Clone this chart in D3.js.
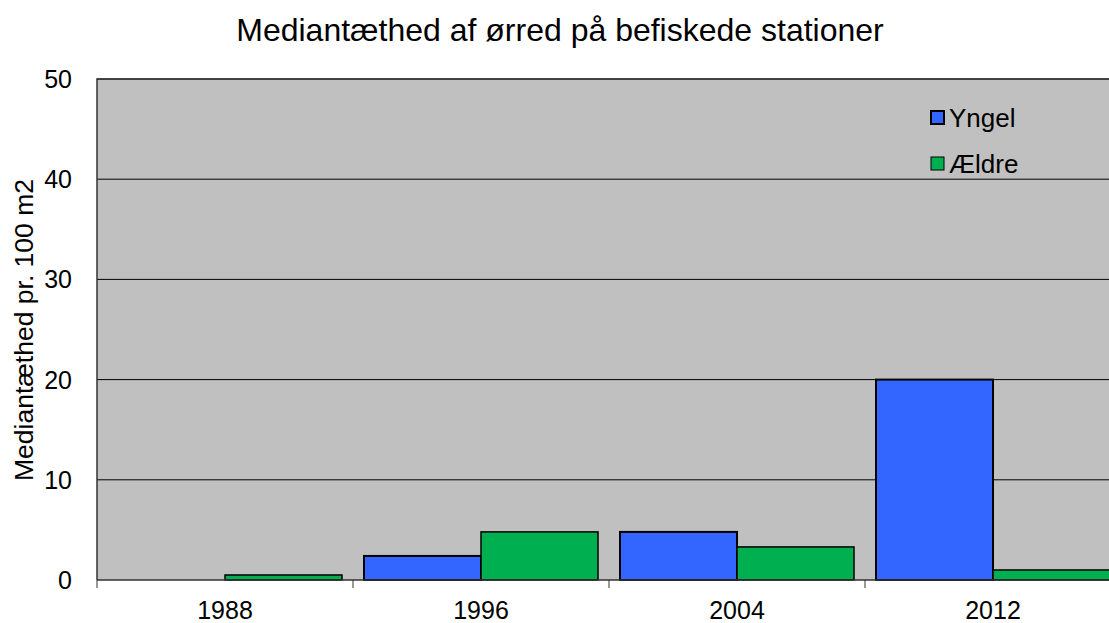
<!DOCTYPE html>
<html>
<head>
<meta charset="utf-8">
<script src="https://cdn.jsdelivr.net/npm/d3@7"></script>
<style>
  body { margin: 0; background: #fff; overflow: hidden; }
  text { font-family: "Liberation Sans", Arial, sans-serif; fill: #000; }
</style>
</head>
<body>
<div id="chart"></div>
<script>
// data
var years = ["1988", "1996", "2004", "2012"];
var series = ["Yngel", "Ældre"];
var yngel = [0, 2.4, 4.8, 20];
var aeldre = [0.5, 4.8, 3.3, 1.0];
var yTicks = [0, 10, 20, 30, 40, 50];
var colors = ["#3366ff", "#00b050"];

var data = years.map(function(y, i) {
  return {year: y, values: [yngel[i], aeldre[i]]};
});

// set the dimensions and margins of the graph
var margin = {top: 79, right: 0, bottom: 43, left: 97},
    width = 1024,
    height = 501;

var svg = d3.select("#chart").append("svg")
    .attr("width", 1109)
    .attr("height", 623);

var g = svg.append("g")
    .attr("transform", "translate(" + margin.left + "," + margin.top + ")");

// set the ranges
var x0 = d3.scaleBand().domain(years).range([0, width]).padding(0);
var x1 = d3.scaleBand().domain(series).range([11, x0.bandwidth() - 11]).padding(0);
var y = d3.scaleLinear().domain([0, 50]).range([height, 0]);

// plot background
g.append("rect")
    .attr("width", width)
    .attr("height", height)
    .style("fill", "#c0c0c0");

// gridlines
g.selectAll(".grid")
    .data(yTicks.slice(1))
  .enter().append("line")
    .attr("x1", 0)
    .attr("x2", width)
    .attr("y1", function(d) { return y(d); })
    .attr("y2", function(d) { return y(d); })
    .style("stroke", "#000")
    .style("stroke-width", 1);

// bars
var groups = g.selectAll(".group")
    .data(data)
  .enter().append("g")
    .attr("transform", function(d) { return "translate(" + x0(d.year) + ",0)"; });

groups.selectAll("rect")
    .data(function(d) { return d.values.map(function(v, i) { return {key: series[i], value: v, i: i}; }); })
  .enter().append("rect")
    .attr("x", function(d) { return x1(d.key); })
    .attr("width", x1.bandwidth())
    .attr("y", function(d) { return y(d.value); })
    .attr("height", function(d) { return height - y(d.value); })
    .style("fill", function(d) { return colors[d.i]; })
    .style("stroke", "#000")
    .style("stroke-width", function(d) { return d.i == 0 ? 2 : 1.5; })
    .style("display", function(d) { return d.value > 0 ? null : "none"; });

// plot frame (left and top)
g.append("path")
    .attr("d", "M0," + height + "V0H" + width)
    .style("fill", "none")
    .style("stroke", "#333")
    .style("stroke-width", 1.5);

// x axis
var xAxis = g.append("g")
    .attr("transform", "translate(0," + height + ")");
xAxis.append("line")
    .attr("x1", 0).attr("x2", width)
    .style("stroke", "#333")
    .style("stroke-width", 1.5);
xAxis.selectAll(".tick")
    .data(years)
  .enter().append("line")
    .attr("x1", function(d) { return x0(d); })
    .attr("x2", function(d) { return x0(d); })
    .attr("y1", 0)
    .attr("y2", 8)
    .style("stroke", "#333")
    .style("stroke-width", 1);
xAxis.selectAll(".lbl")
    .data(years)
  .enter().append("text")
    .attr("x", function(d) { return x0(d) + x0.bandwidth() / 2; })
    .attr("y", 39)
    .attr("text-anchor", "middle")
    .style("font-size", "25px")
    .text(function(d) { return d; });

// y axis labels
g.selectAll(".ylbl")
    .data(yTicks)
  .enter().append("text")
    .attr("x", -25)
    .attr("y", function(d) { return y(d); })
    .attr("dy", "0.36em")
    .attr("text-anchor", "end")
    .style("font-size", "25px")
    .text(function(d) { return d; });

// text label for the y axis
svg.append("text")
    .attr("transform", "rotate(-90)")
    .attr("x", -330)
    .attr("y", 33)
    .attr("text-anchor", "middle")
    .style("font-size", "26.5px")
    .text("Mediantæthed pr. 100 m2");

// title
svg.append("text")
    .attr("x", 560)
    .attr("y", 41)
    .attr("text-anchor", "middle")
    .style("font-size", "32px")
    .text("Mediantæthed af ørred på befiskede stationer");

// legend
var legend = svg.selectAll(".legend")
    .data(series)
  .enter().append("g")
    .attr("transform", function(d, i) { return "translate(931," + (111 + i * 46) + ")"; });
legend.append("rect")
    .attr("width", 13)
    .attr("height", 13)
    .style("fill", function(d, i) { return colors[i]; })
    .style("stroke", "#000")
    .style("stroke-width", function(d, i) { return i == 0 ? 2 : 1; });
legend.append("text")
    .attr("x", 18)
    .attr("y", 7)
    .attr("dy", "0.36em")
    .style("font-size", "26px")
    .text(function(d) { return d; });
</script>
</body>
</html>
